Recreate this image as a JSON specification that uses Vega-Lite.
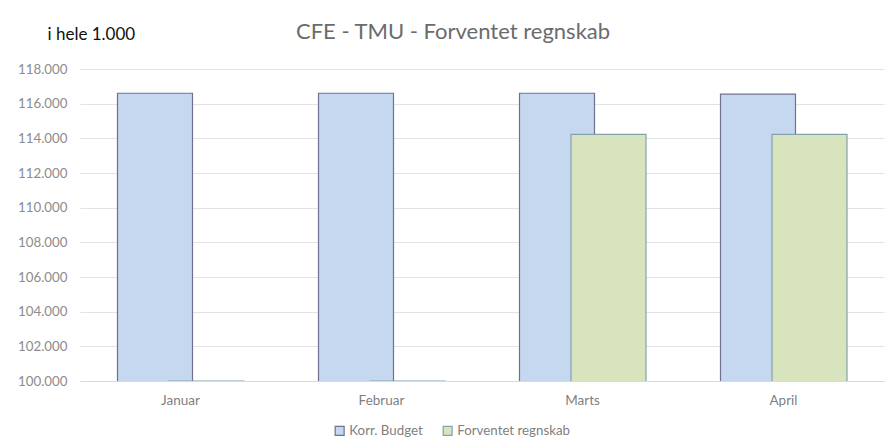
{
  "$schema": "https://vega.github.io/schema/vega-lite/v6.json",
  "width": 804,
  "height": 312,
  "autosize": {"type": "none"},
  "padding": {"left": 80, "top": 69, "right": 1, "bottom": 67},
  "background": "white",
  "config": {
    "locale": {"number": {"decimal": ",", "thousands": ".", "grouping": [3], "currency": ["", " kr."]}},
    "font": "Lato",
    "view": {"stroke": null}
  },
  "title": {
    "text": "CFE - TMU - Forventet regnskab",
    "fontSize": 22,
    "fontWeight": "normal",
    "color": "#6b6b6b",
    "font": "Lato",
    "anchor": "middle",
    "dx": -29,
    "dy": 45,
    "offset": 26
  },
  "data": {
    "values": [
      {"maaned": "Januar", "serie": "Korr. Budget", "beloeb": 116600},
      {"maaned": "Februar", "serie": "Korr. Budget", "beloeb": 116600},
      {"maaned": "Marts", "serie": "Korr. Budget", "beloeb": 116600},
      {"maaned": "April", "serie": "Korr. Budget", "beloeb": 116550},
      {"maaned": "Januar", "serie": "Forventet regnskab", "beloeb": 100000},
      {"maaned": "Februar", "serie": "Forventet regnskab", "beloeb": 100000},
      {"maaned": "Marts", "serie": "Forventet regnskab", "beloeb": 114230},
      {"maaned": "April", "serie": "Forventet regnskab", "beloeb": 114230}
    ]
  },
  "encoding": {
    "x": {
      "field": "maaned",
      "type": "nominal",
      "sort": ["Januar", "Februar", "Marts", "April"],
      "scale": {"paddingInner": 0, "paddingOuter": 0},
      "axis": {
        "title": null,
        "labelAngle": 0,
        "labelFontSize": 13.5,
        "labelColor": "#7f7f7f",
        "labelPadding": 12,
        "ticks": false,
        "domainColor": "#d9d9d9",
        "grid": false
      }
    },
    "y": {
      "field": "beloeb",
      "type": "quantitative",
      "scale": {"domain": [100000, 118000], "zero": false, "nice": false},
      "axis": {
        "values": [100000, 102000, 104000, 106000, 108000, 110000, 112000, 114000, 116000, 118000],
        "format": ",.0f",
        "labelFontSize": 13.3,
        "labelColor": "#8c8c8c",
        "labelPadding": 13,
        "ticks": false,
        "domain": false,
        "gridColor": "#e3e3e3",
        "title": "i hele 1.000",
        "titleAngle": 0,
        "titleAlign": "left",
        "titleBaseline": "alphabetic",
        "titleX": -33,
        "titleY": -30,
        "titleFontSize": 17,
        "titleFontWeight": "normal",
        "titleColor": "#111111"
      }
    },
    "color": {
      "field": "serie",
      "type": "nominal",
      "scale": {"domain": ["Korr. Budget", "Forventet regnskab"], "range": ["#c6d8f0", "#d8e4bd"]},
      "legend": {
        "title": null,
        "orient": "none",
        "direction": "horizontal",
        "legendX": 253,
        "legendY": 355,
        "symbolType": "square",
        "symbolSize": 80,
        "symbolStrokeWidth": 1.2,
        "labelFontSize": 13.3,
        "labelColor": "#7f7f7f",
        "columnPadding": 17,
        "labelOffset": 3
      }
    },
    "stroke": {
      "field": "serie",
      "type": "nominal",
      "scale": {"domain": ["Korr. Budget", "Forventet regnskab"], "range": ["#6e7190", "#82a2ad"]},
      "legend": null
    }
  },
  "layer": [
    {
      "transform": [{"filter": "datum.serie === 'Korr. Budget'"}],
      "mark": {"type": "bar", "width": 75, "xOffset": -25.5, "strokeWidth": 1.2, "clip": true}
    },
    {
      "transform": [{"filter": "datum.serie === 'Forventet regnskab'"}],
      "mark": {"type": "bar", "width": 75, "xOffset": 26, "strokeWidth": 1.2, "clip": true}
    }
  ]
}
